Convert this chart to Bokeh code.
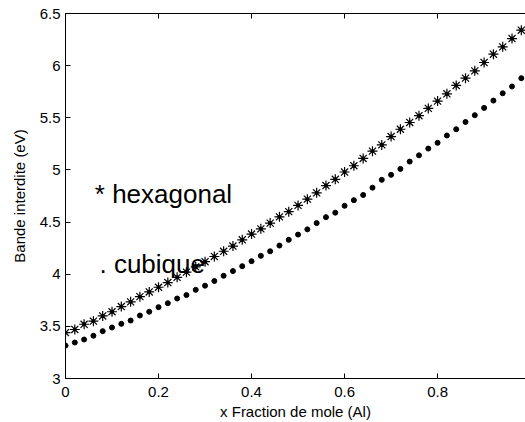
from bokeh.plotting import figure
from bokeh.models import LinearAxis, FixedTicker, CustomJSTickFormatter, Range1d, Label
from bokeh.embed import file_html
from bokeh.resources import INLINE

# ---- data ----
x_frac = [0.00, 0.02, 0.04, 0.06, 0.08, 0.10, 0.12, 0.14, 0.16, 0.18,
          0.20, 0.22, 0.24, 0.26, 0.28, 0.30, 0.32, 0.34, 0.36, 0.38,
          0.40, 0.42, 0.44, 0.46, 0.48, 0.50, 0.52, 0.54, 0.56, 0.58,
          0.60, 0.62, 0.64, 0.66, 0.68, 0.70, 0.72, 0.74, 0.76, 0.78,
          0.80, 0.82, 0.84, 0.86, 0.88, 0.90, 0.92, 0.94, 0.96, 0.98]

hexagonal = [3.44, 3.47, 3.52, 3.55, 3.60, 3.64, 3.69, 3.735, 3.785, 3.83,
             3.875, 3.92, 3.97, 4.02, 4.07, 4.12, 4.17, 4.22, 4.27, 4.33,
             4.385, 4.435, 4.49, 4.55, 4.60, 4.66, 4.72, 4.78, 4.85, 4.91,
             4.98, 5.04, 5.11, 5.18, 5.24, 5.32, 5.39, 5.455, 5.52, 5.59,
             5.66, 5.73, 5.81, 5.88, 5.95, 6.03, 6.11, 6.18, 6.26, 6.34]

cubique = [3.316, 3.345, 3.374, 3.41, 3.454, 3.489, 3.524, 3.556, 3.604, 3.64,
           3.684, 3.722, 3.767, 3.80, 3.85, 3.89, 3.935, 3.985, 4.03, 4.077,
           4.125, 4.176, 4.22, 4.275, 4.33, 4.38, 4.43, 4.49, 4.547, 4.59,
           4.656, 4.71, 4.76, 4.83, 4.905, 4.953, 5.01, 5.08, 5.14, 5.205,
           5.26, 5.33, 5.39, 5.46, 5.525, 5.595, 5.665, 5.735, 5.80, 5.88]

x_ticks = [0, 0.2, 0.4, 0.6, 0.8]
y_ticks = [3, 3.5, 4, 4.5, 5, 5.5, 6, 6.5]
x_label = "x Fraction de mole (Al)"
y_label = "Bande interdite (eV)"
hex_text = "* hexagonal"
cub_text = ". cubique"

FONT = "Liberation Sans"

p = figure(width=525, height=422, output_backend="svg", toolbar_location=None,
           x_range=Range1d(0, 0.989), y_range=Range1d(3, 6.5),
           x_axis_location=None, y_axis_location=None,
           min_border_left=65, min_border_right=0, min_border_top=13,
           min_border_bottom=44)
p.outline_line_color = None
p.grid.visible = False
p.background_fill_color = "white"
p.border_fill_color = "white"

fmt = CustomJSTickFormatter(code="return String(Math.round(tick*10)/10);")
empty_fmt = CustomJSTickFormatter(code="return '';")

def style(ax):
    ax.axis_line_color = "black"
    ax.axis_line_width = 1
    ax.major_tick_in = 5
    ax.major_tick_out = 0
    ax.minor_tick_in = 0
    ax.minor_tick_out = 0
    ax.major_tick_line_color = "black"
    ax.major_label_text_font = FONT
    ax.major_label_text_font_size = "15px"
    ax.major_label_text_color = "black"
    ax.axis_label_text_font = FONT
    ax.axis_label_text_font_size = "15px"
    ax.axis_label_text_font_style = "normal"
    ax.axis_label_text_color = "black"

xb = LinearAxis(ticker=FixedTicker(ticks=x_ticks), formatter=fmt, axis_label=x_label)
style(xb)
xb.major_label_standoff = 8
xb.axis_label_standoff = 3
p.add_layout(xb, "below")

xt = LinearAxis(ticker=FixedTicker(ticks=x_ticks), formatter=empty_fmt)
style(xt)
xt.major_label_standoff = 0
p.add_layout(xt, "above")

yl = LinearAxis(ticker=FixedTicker(ticks=y_ticks), formatter=fmt, axis_label=y_label)
style(yl)
yl.major_label_standoff = 5
yl.axis_label_standoff = 9
p.add_layout(yl, "left")

p.scatter(x_frac, hexagonal, marker="asterisk", size=10, line_color="black", line_width=1.2)
p.scatter(x_frac, hexagonal, marker="circle", size=3, fill_color="black", line_color="black")
p.scatter(x_frac, cubique, marker="circle", size=5, fill_color="black", line_color="black")

p.add_layout(Label(x=0.063, y=4.77, text=hex_text, text_font=FONT, text_font_size="26px",
                   text_color="black", text_baseline="alphabetic", text_align="left"))
p.add_layout(Label(x=0.073, y=4.10, text=cub_text, text_font=FONT, text_font_size="26px",
                   text_color="black", text_baseline="alphabetic", text_align="left"))

open("out.html", "w").write(file_html(p, INLINE))
